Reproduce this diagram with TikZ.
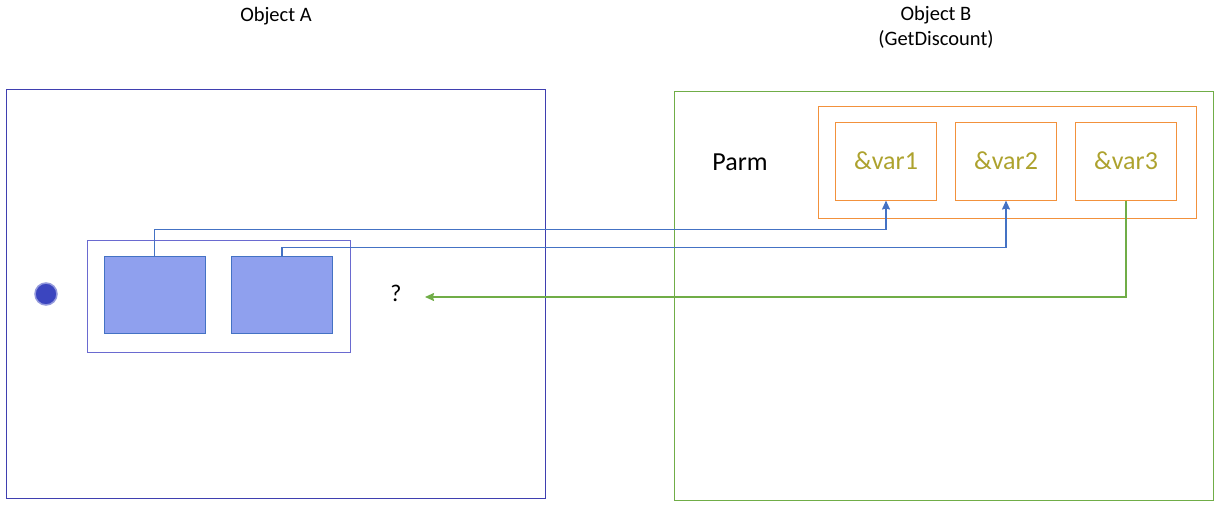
\documentclass[tikz,border=0pt]{standalone}
\usepackage{fontspec}
\setmainfont{Carlito}
\usetikzlibrary{arrows.meta}

\definecolor{objblue}{HTML}{3F3FB0}
\definecolor{grpblue}{HTML}{6A6AD0}
\definecolor{cellfill}{HTML}{8FA0EE}
\definecolor{linkblue}{HTML}{4472C4}
\definecolor{objgreen}{HTML}{70AD47}
\definecolor{parmorange}{HTML}{F2913C}
\definecolor{varolive}{HTML}{ADA22E}
\definecolor{dotblue}{HTML}{3B45BF}

\begin{document}
\begin{tikzpicture}[x=1pt,y=-1pt,>={Stealth[length=9pt,width=8pt,inset=1pt]},line width=1pt,
    object node/.style={rectangle,draw,minimum width=539pt,minimum height=409pt,inner sep=0pt},
    title node/.style={font=\fontsize{20.5}{25}\selectfont,align=center,inner sep=0pt},
    cell node/.style={rectangle,draw=linkblue,fill=cellfill,
        minimum width=101pt,minimum height=77pt,inner sep=0pt},
    var node/.style={rectangle,draw=parmorange,text=varolive,
        font=\fontsize{26}{30}\selectfont,minimum width=101pt,minimum height=78pt,inner sep=0pt},
    link/.style={->,line width=1.4pt}]

  \useasboundingbox (0,0) rectangle (1218,509);

  % the two objects
  \node[title node] (TA) at (276,16) {Object A};
  \node[title node,anchor=north] (TB) at (936,6) {Object B\\(GetDiscount)};
  \node[object node,draw=objblue] (OA) at (275.5,293.5) {};
  \node[object node,draw=objgreen] (OB) at (943.5,295.5) {};

  % caller side
  \fill[dotblue,draw=dotblue!55,line width=1.5pt] (46,294) circle (11pt);
  \node[rectangle,draw=grpblue,minimum width=263pt,minimum height=112pt] (GA) at (218.5,296) {};
  \node[cell node] (C1) at (154.5,294.5) {};
  \node[cell node] (C2) at (282,294.5) {};
  \node[font=\fontsize{24}{28}\selectfont,inner sep=0pt] (Q) at (396,293) {?};
  \coordinate (RET) at (425,297);

  % callee side
  \node[font=\fontsize{26}{30}\selectfont,inner sep=0pt] (PARM) at (740,162) {Parm};
  \node[rectangle,draw=parmorange,minimum width=378pt,minimum height=112pt] (PG) at (1007,162) {};
  \node[var node] (V1) at (886,161) {\&var1};
  \node[var node] (V2) at (1006,161) {\&var2};
  \node[var node] (V3) at (1126,161) {\&var3};

  \draw[link,linkblue] (C1.north) -- ++(0,-26) -| (V1.south);
  \draw[link,linkblue] (C2.north) -- ++(0,-8) -| (V2.south);
  \draw[link,objgreen] (V3.south) |- (RET);
\end{tikzpicture}
\end{document}
